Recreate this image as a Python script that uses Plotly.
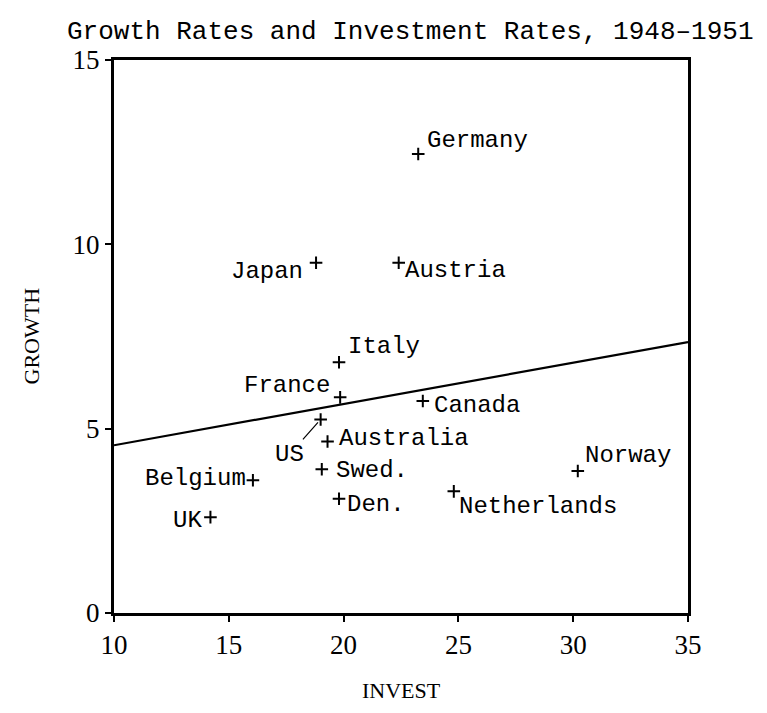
import plotly.graph_objects as go

# ---- data ----
countries = ["Germany", "Japan", "Austria", "Italy", "France", "Canada", "US",
             "Australia", "Swed.", "Den.", "Belgium", "UK", "Netherlands", "Norway"]
invest = [23.25, 18.8, 22.4, 19.8, 19.85, 23.45, 19.0, 19.3, 19.05, 19.8, 16.05, 14.2, 24.8, 30.2]
growth = [12.45, 9.5, 9.5, 6.8, 5.85, 5.75, 5.25, 4.65, 3.9, 3.1, 3.6, 2.6, 3.3, 3.85]
fit_x = [10, 35]
fit_y = [4.55, 7.35]
x_ticks = [10, 15, 20, 25, 30, 35]
y_ticks = [0, 5, 10, 15]

# ---- label placement (pixel offsets from the marker) ----
label_pos = {
    "Germany": (7, 14, "left"),
    "Japan": (-11, -9, "right"),
    "Austria": (4, -8, "left"),
    "Italy": (7, 16, "left"),
    "France": (-8, 12, "right"),
    "Canada": (9, -4, "left"),
    "Australia": (9, 3, "left"),
    "Swed.": (12, -1, "left"),
    "Den.": (6, -6, "left"),
    "Belgium": (-5, 2, "right"),
    "UK": (-6, -3, "right"),
    "Netherlands": (3, -15, "left"),
    "Norway": (5, 16, "left"),
}

MONO = "Liberation Mono, DejaVu Sans Mono, monospace"
SERIF = "Liberation Serif, DejaVu Serif, serif"
LABEL_SIZE = 24

fig = go.Figure()
fig.add_trace(go.Scatter(x=fit_x, y=fit_y, mode="lines",
                         line=dict(color="black", width=2.2), hoverinfo="skip"))
fig.add_trace(go.Scatter(x=invest, y=growth, mode="markers",
                         marker=dict(symbol="cross-thin", size=9, color="black",
                                     line=dict(color="black", width=2)),
                         text=countries, hoverinfo="text"))

for name, xv, yv in zip(countries, invest, growth):
    if name == "US":
        fig.add_annotation(x=xv, y=yv, text=name, showarrow=True, arrowhead=0,
                           arrowwidth=1.2, arrowcolor="black", ax=-31, ay=35,
                           standoff=4, font=dict(family=MONO, size=LABEL_SIZE, color="black"))
        continue
    dx, dy, anchor = label_pos[name]
    fig.add_annotation(x=xv, y=yv, text=name, showarrow=False, xshift=dx, yshift=dy,
                       xanchor=anchor, yanchor="middle",
                       font=dict(family=MONO, size=LABEL_SIZE, color="black"))

# axis titles
fig.add_annotation(x=0.5, y=0, xref="paper", yref="paper", text="INVEST",
                   showarrow=False, xanchor="center", yanchor="middle", yshift=-77,
                   font=dict(family=SERIF, size=22, color="black"))
fig.add_annotation(x=0, y=0.5, xref="paper", yref="paper", text="GROWTH",
                   showarrow=False, xanchor="center", yanchor="middle", xshift=-83,
                   textangle=-90, font=dict(family=SERIF, size=22, color="black"))

fig.update_layout(
    width=759, height=705,
    margin=dict(l=106, r=79, t=52, b=100, autoexpand=False),
    paper_bgcolor="white", plot_bgcolor="white",
    showlegend=False,
    title=dict(text="Growth Rates and Investment Rates, 1948\u20131951",
               x=0.53, xanchor="center", y=0.969, yanchor="middle",
               font=dict(family=MONO, size=26, color="black")),
    xaxis=dict(range=[10, 35], tickvals=x_ticks, ticks="outside", ticklen=6,
               tickwidth=2, tickcolor="black", showgrid=False, zeroline=False,
               showline=True, linecolor="black", linewidth=3, mirror=True,
               automargin=False,
               tickfont=dict(family=SERIF, size=27, color="black")),
    yaxis=dict(range=[0, 15], tickvals=y_ticks, ticks="outside", ticklen=6,
               tickwidth=2, tickcolor="black", showgrid=False, zeroline=False,
               showline=True, linecolor="black", linewidth=3, mirror=True,
               automargin=False,
               tickfont=dict(family=SERIF, size=27, color="black")),
)

fig.write_html("out.html")
